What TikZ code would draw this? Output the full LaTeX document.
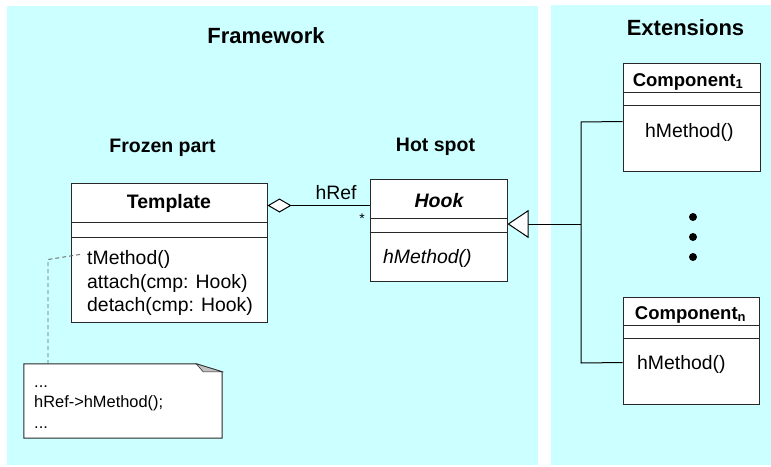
\documentclass[tikz,border=0pt]{standalone}
\usepackage{fontspec}
\setmainfont{Liberation Sans}
\usetikzlibrary{arrows.meta,calc}
\definecolor{panel}{RGB}{204,255,255}
\definecolor{foldgray}{RGB}{192,192,192}
\definecolor{edge}{RGB}{40,40,40}
\begin{document}
\begin{tikzpicture}[x=1pt,y=-1pt,
  classbox/.style={draw=edge, fill=white, line width=1pt, inner sep=0pt},
  titletext/.style={font=\fontsize{22}{26}\selectfont\bfseries, anchor=base, inner sep=0pt},
  subtext/.style={font=\fontsize{19.5}{23}\selectfont\bfseries, anchor=base, inner sep=0pt},
  clsname/.style={font=\fontsize{19.5}{23}\selectfont\bfseries, anchor=base, inner sep=0pt},
  comptext/.style={font=\fontsize{18.5}{22}\selectfont\bfseries, anchor=base, inner sep=0pt},
  body/.style={font=\fontsize{19.4}{23}\selectfont, anchor=base west, inner sep=0pt},
  notetext/.style={font=\fontsize{16.4}{20}\selectfont, anchor=base west, inner sep=0pt},
  compline/.style={draw=edge, line width=1pt},
  conn/.style={draw=black, line width=1pt},
  notelink/.style={draw=gray!80!black, line width=0.9pt, dash pattern=on 4pt off 3pt}
]
\useasboundingbox (0,0) rectangle (771,466);
% panels
\fill[panel] (7,6) rectangle (538,465);
\fill[panel] (551,5) rectangle (771,465);

% titles
\node[titletext] (fw) at (266,43) {Framework};
\node[titletext] (ext) at (685.5,35) {Extensions};
\node[subtext] (frozen) at (162.5,152) {Frozen part};
\node[subtext] (hot) at (435.5,151) {Hot spot};

% Template class
\node[classbox, minimum width=196pt, minimum height=139pt] (tpl) at (169,252.5) {};
\draw[compline] (tpl.west |- 0,222) -- (tpl.east |- 0,222);
\draw[compline] (tpl.west |- 0,237) -- (tpl.east |- 0,237);
\node[clsname] (tplname) at (169,208) {Template};
\node[body] (tm) at (87,264.5) {tMethod()};
\node[body] (att) at (87,288) {attach(cmp: Hook)};
\node[body] (det) at (87,311) {detach(cmp: Hook)};

% Hook class
\node[classbox, minimum width=137pt, minimum height=102pt] (hook) at (438.5,230) {};
\draw[compline] (hook.west |- 0,218) -- (hook.east |- 0,218);
\draw[compline] (hook.west |- 0,232) -- (hook.east |- 0,232);
\node[clsname, font=\fontsize{19.5}{23}\selectfont\bfseries\itshape] (hookname) at (439,207) {Hook};
\node[body, font=\fontsize{19.4}{23}\selectfont\itshape] (hm) at (383,263) {hMethod()};

% Component 1
\node[classbox, minimum width=137pt, minimum height=108pt] (c1) at (691.5,117) {};
\draw[compline] (c1.west |- 0,92) -- (c1.east |- 0,92);
\draw[compline] (c1.west |- 0,105) -- (c1.east |- 0,105);
\node[comptext] (c1name) at (688,86) {Component\textsubscript{1}};
\node[body] (c1m) at (645,137) {hMethod()};

% Component n
\node[classbox, minimum width=136pt, minimum height=107pt] (cn) at (691,350.5) {};
\draw[compline] (cn.west |- 0,325) -- (cn.east |- 0,325);
\draw[compline] (cn.west |- 0,338) -- (cn.east |- 0,338);
\node[comptext] (cnname) at (690.5,319) {Component\textsubscript{n}};
\node[body] (cnm) at (637,369) {hMethod()};

% dots
\fill (693,217) circle (4);
\fill (693,237) circle (4);
\fill (693,257) circle (4);

% note
\node[inner sep=0pt, minimum width=198pt, minimum height=74pt] (note) at (123,401) {};
\filldraw[fill=white, draw=edge, line width=1pt]
  (note.north west) -- ($(note.north east)+(-26,0)$) -- ($(note.north east)+(0,8)$)
  -- (note.south east) -- (note.south west) -- cycle;
\filldraw[fill=foldgray, draw=edge, line width=0.6pt]
  ($(note.north east)+(-26,0)$) -- ($(note.north east)+(0,8)$) -- ($(note.north east)+(-19,8)$) -- cycle;
\node[notetext] (n1) at (34,387) {...};
\node[notetext] (n2) at (34,407) {hRef->hMethod();};
\node[notetext] (n3) at (34,428) {...};

% note link
\coordinate (tmstart) at ($(tm.west)+(-7,-5)$);
\draw[notelink] (tmstart) -- (48,259.5) -- (48,364);

% aggregation
\draw[conn, {Diamond[fill=white,length=24pt,width=14pt]}-]
  ($(tpl.north east)+(0,23)$) -- ($(hook.north west)+(0,27)$);
\node[font=\fontsize{19.4}{23}\selectfont, anchor=base, inner sep=0pt] (href) at (336,199) {hRef};
\node[font=\fontsize{14}{16}\selectfont, inner sep=0pt] (mult) at (362,219) {*};

% generalization
\coordinate (jn) at (581,224);
\draw[conn] ($(c1.north west)+(0,59)$) -- (581,122) -- (581,363) -- ($(cn.north west)+(0,66)$);
\draw[conn, -{Triangle[fill=white,length=21pt,width=28pt]}] (jn) -- (hook.east |- jn);
\end{tikzpicture}
\end{document}
